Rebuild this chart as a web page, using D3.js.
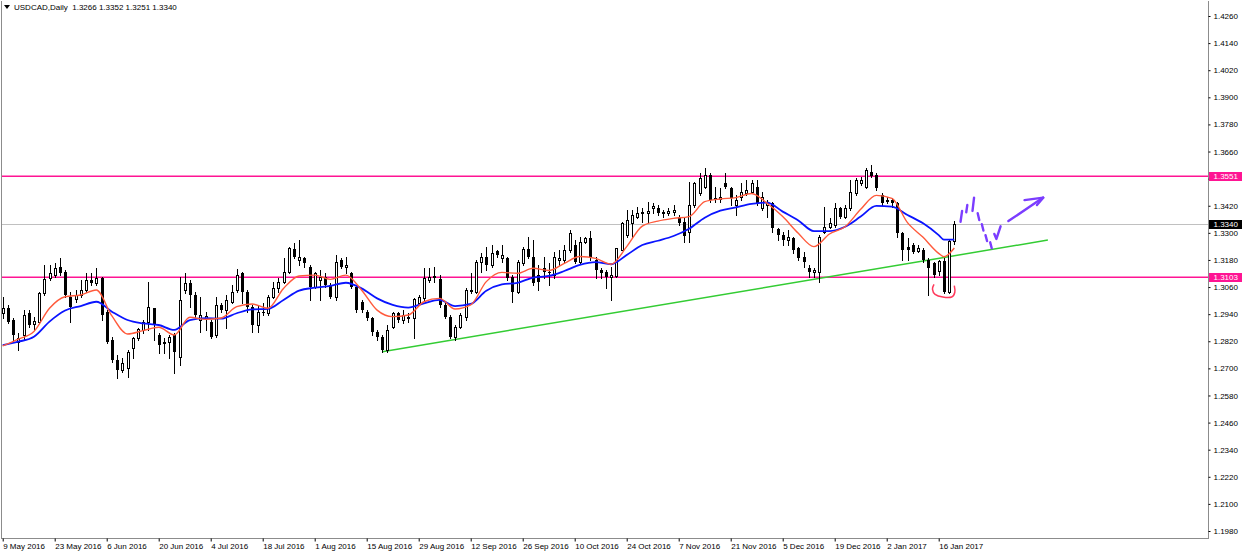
<!DOCTYPE html>
<html>
<head>
<meta charset="utf-8">
<script src="https://cdn.jsdelivr.net/npm/d3@7"></script>
<style>
body { margin: 0; background: #fff; }
svg { display: block; font-family: "Liberation Sans", Arial, sans-serif; }
</style>
</head>
<body>
<div id="chart"></div>
<script>
// daily candles (bar 0 = 9 May 2016)
var opens = [
  1.2944,1.2966,1.2914,1.2818,1.2848,1.2944,1.2897,1.2907,1.3032,1.3099,
  1.3113,1.3147,1.3128,1.3017,1.3005,1.3025,1.3047,1.3091,1.3076,1.3099,
  1.2951,1.2826,1.2737,1.2693,1.2700,1.2789,1.2833,1.2870,1.2907,1.2966,
  1.2848,1.2811,1.2818,1.2848,1.2752,1.3047,1.3076,1.3025,1.2915,1.2922,
  1.2907,1.2848,1.2981,1.2958,1.2995,1.3047,1.3121,1.3040,1.2973,1.2892,
  1.2951,1.2944,1.3017,1.3054,1.3084,1.3128,1.3227,1.3180,1.3187,1.3150,
  1.3062,1.3091,1.3106,1.3069,1.3017,1.3180,1.3150,1.3121,1.3062,1.2995,
  1.2951,1.2922,1.2863,1.2840,1.2781,1.2885,1.2944,1.2914,1.2922,1.2922,
  1.2988,1.3010,1.3091,1.3106,1.3094,1.2981,1.2929,1.2840,1.2885,1.2929,
  1.3047,1.3040,1.3172,1.3194,1.3158,1.3220,1.3187,1.3187,1.3106,1.3040,
  1.3165,1.3227,1.3194,1.3113,1.3143,1.3128,1.3113,1.3180,1.3180,1.3224,
  1.3246,1.3172,1.3261,1.3276,1.3180,1.3136,1.3128,1.3106,1.3109,1.3224,
  1.3290,1.3342,1.3372,1.3386,1.3390,1.3409,1.3412,1.3386,1.3390,1.3394,
  1.3372,1.3350,1.3305,1.3423,1.3475,1.3505,1.3556,1.3453,1.3449,1.3519,
  1.3497,1.3423,1.3460,1.3475,1.3482,1.3505,1.3409,1.3423,1.3431,1.3317,
  1.3290,1.3268,1.3276,1.3231,1.3194,1.3143,1.3128,1.3128,1.3305,1.3327,
  1.3335,1.3409,1.3372,1.3409,1.3475,1.3519,1.3505,1.3571,1.3556,1.3468,
  1.3444,1.3446,1.3431,1.3298,1.3239,1.3246,1.3220,1.3224,1.3180,1.3165,
  1.3131,1.3175,1.3039,1.3266
];
var highs = [
  1.3017,1.2981,1.2922,1.2855,1.2958,1.2958,1.2929,1.3040,1.3158,1.3158,
  1.3165,1.3187,1.3135,1.3040,1.3047,1.3091,1.3121,1.3121,1.3143,1.3106,
  1.2958,1.2840,1.2759,1.2745,1.2781,1.2840,1.2877,1.2914,1.3084,1.2966,
  1.2855,1.2833,1.2848,1.2855,1.3106,1.3121,1.3091,1.3040,1.3017,1.2951,
  1.2914,1.3017,1.2988,1.3025,1.3069,1.3138,1.3128,1.3047,1.2981,1.2981,
  1.2988,1.3025,1.3084,1.3099,1.3187,1.3239,1.3253,1.3268,1.3194,1.3158,
  1.3128,1.3135,1.3121,1.3076,1.3202,1.3187,1.3194,1.3128,1.3069,1.3003,
  1.2958,1.2929,1.2870,1.2848,1.2892,1.2951,1.2951,1.2958,1.2944,1.3010,
  1.3025,1.3143,1.3143,1.3150,1.3113,1.2988,1.2936,1.2892,1.2944,1.3054,
  1.3121,1.3180,1.3209,1.3239,1.3246,1.3224,1.3246,1.3194,1.3113,1.3180,
  1.3239,1.3280,1.3268,1.3158,1.3194,1.3165,1.3217,1.3224,1.3246,1.3312,
  1.3268,1.3283,1.3283,1.3310,1.3194,1.3143,1.3136,1.3150,1.3231,1.3350,
  1.3401,1.3401,1.3416,1.3409,1.3438,1.3431,1.3423,1.3401,1.3409,1.3423,
  1.3379,1.3364,1.3527,1.3527,1.3564,1.3586,1.3564,1.3505,1.3497,1.3564,
  1.3505,1.3468,1.3519,1.3534,1.3534,1.3534,1.3482,1.3446,1.3438,1.3320,
  1.3305,1.3313,1.3283,1.3239,1.3217,1.3158,1.3143,1.3290,1.3416,1.3364,
  1.3431,1.3416,1.3423,1.3534,1.3541,1.3549,1.3586,1.3601,1.3564,1.3475,
  1.3460,1.3453,1.3438,1.3305,1.3276,1.3254,1.3246,1.3231,1.3187,1.3173,
  1.3180,1.3187,1.3268,1.3352
];
var lows = [
  1.2922,1.2899,1.2826,1.2781,1.2826,1.2885,1.2870,1.2899,1.3025,1.3091,
  1.3106,1.3113,1.3017,1.2907,1.2995,1.3017,1.3040,1.3069,1.3069,1.2914,
  1.2811,1.2730,1.2656,1.2685,1.2663,1.2745,1.2826,1.2855,1.2870,1.2826,
  1.2767,1.2767,1.2745,1.2678,1.2715,1.3032,1.2973,1.2929,1.2863,1.2870,
  1.2833,1.2840,1.2951,1.2877,1.2988,1.3040,1.2988,1.2951,1.2863,1.2863,
  1.2936,1.2936,1.3010,1.3040,1.3076,1.3121,1.3187,1.3158,1.3150,1.3003,
  1.3054,1.3003,1.3062,1.3010,1.3003,1.3143,1.3121,1.3054,1.2951,1.2951,
  1.2914,1.2848,1.2826,1.2774,1.2774,1.2877,1.2907,1.2899,1.2907,1.2833,
  1.2981,1.3003,1.3084,1.3084,1.2973,1.2922,1.2833,1.2826,1.2877,1.2914,
  1.3032,1.3032,1.3128,1.3135,1.3150,1.3194,1.3172,1.3091,1.2995,1.3032,
  1.3158,1.3187,1.3069,1.3047,1.3099,1.3069,1.3099,1.3158,1.3172,1.3217,
  1.3165,1.3165,1.3253,1.3180,1.3099,1.3099,1.3054,1.3003,1.3106,1.3224,
  1.3283,1.3283,1.3364,1.3350,1.3350,1.3386,1.3379,1.3372,1.3379,1.3379,
  1.3335,1.3261,1.3261,1.3416,1.3468,1.3497,1.3438,1.3438,1.3438,1.3497,
  1.3423,1.3379,1.3446,1.3468,1.3475,1.3423,1.3401,1.3372,1.3305,1.3268,
  1.3246,1.3246,1.3209,1.3180,1.3150,1.3106,1.3106,1.3084,1.3298,1.3320,
  1.3327,1.3364,1.3364,1.3401,1.3468,1.3512,1.3497,1.3549,1.3490,1.3423,
  1.3431,1.3416,1.3283,1.3180,1.3180,1.3209,1.3217,1.3173,1.3025,1.3106,
  1.3113,1.3032,1.3032,1.3251
];
var closes = [
  1.2966,1.2907,1.2848,1.2833,1.2936,1.2892,1.2910,1.3032,1.3094,1.3121,
  1.3143,1.3121,1.3025,1.2973,1.3025,1.3047,1.3091,1.3076,1.3099,1.2936,
  1.2818,1.2737,1.2693,1.2722,1.2774,1.2833,1.2873,1.2907,1.2973,1.2892,
  1.2804,1.2818,1.2840,1.2774,1.3003,1.3076,1.3025,1.2936,1.2936,1.2932,
  1.2840,1.2981,1.2958,1.3003,1.3040,1.3113,1.3040,1.2973,1.2892,1.2951,
  1.2944,1.3017,1.3054,1.3084,1.3128,1.3231,1.3194,1.3194,1.3165,1.3062,
  1.3121,1.3106,1.3069,1.3017,1.3172,1.3150,1.3158,1.3062,1.2958,1.2958,
  1.2922,1.2863,1.2840,1.2781,1.2870,1.2944,1.2914,1.2936,1.2929,1.3007,
  1.3014,1.3099,1.3106,1.3110,1.2981,1.2929,1.2840,1.2885,1.2936,1.3047,
  1.3040,1.3172,1.3194,1.3158,1.3209,1.3202,1.3202,1.3099,1.3040,1.3172,
  1.3227,1.3194,1.3076,1.3084,1.3128,1.3121,1.3194,1.3187,1.3224,1.3298,
  1.3172,1.3261,1.3276,1.3187,1.3135,1.3124,1.3106,1.3113,1.3231,1.3342,
  1.3357,1.3379,1.3386,1.3394,1.3397,1.3420,1.3386,1.3394,1.3397,1.3401,
  1.3342,1.3286,1.3423,1.3519,1.3541,1.3556,1.3446,1.3446,1.3460,1.3505,
  1.3453,1.3446,1.3482,1.3490,1.3519,1.3431,1.3460,1.3438,1.3320,1.3290,
  1.3268,1.3280,1.3224,1.3187,1.3173,1.3128,1.3136,1.3283,1.3327,1.3342,
  1.3409,1.3372,1.3409,1.3482,1.3534,1.3534,1.3578,1.3553,1.3497,1.3431,
  1.3438,1.3431,1.3298,1.3224,1.3224,1.3217,1.3234,1.3180,1.3143,1.3113,
  1.3175,1.3039,1.3262,1.3340
];

// moving averages, read at these bar numbers
var maBars = [0,3,6,9,12,15,18,21,24,27,30,33,36,39,42,45,48,51,54,57,60,63,66,69,72,75,78,81,84,87,
  90,93,96,99,102,105,108,111,114,117,120,123,126,129,132,135,138,141,144,147,150,153,156,159,162,165,
  168,171,174,177,180,181,183];
var maSlow = [1.2803,1.2818,1.2840,1.2907,1.2956,1.2976,1.2995,1.2951,1.2914,1.2899,1.2892,1.2870,1.2914,
  1.2922,1.2920,1.2944,1.2961,1.2963,1.3003,1.3044,1.3057,1.3065,1.3079,1.3054,1.3010,1.2981,1.2969,1.2988,
  1.3003,1.2976,1.2985,1.3044,1.3072,1.3079,1.3102,1.3109,1.3131,1.3158,1.3170,1.3161,1.3202,1.3246,1.3265,
  1.3286,1.3318,1.3367,1.3398,1.3413,1.3428,1.3434,1.3394,1.3355,1.3308,1.3308,1.3327,1.3372,1.3419,1.3416,
  1.3379,1.3342,1.3290,1.3270,1.3270];
var maFast = [1.2799,1.2829,1.2863,1.2966,1.3017,1.3025,1.3047,1.2932,1.2852,1.2867,1.2882,1.2848,1.2926,
  1.2917,1.2923,1.2973,1.2985,1.2966,1.3054,1.3109,1.3113,1.3094,1.3113,1.3047,1.2958,1.2929,1.2936,1.2995,
  1.3010,1.2963,1.2981,1.3084,1.3125,1.3121,1.3143,1.3133,1.3165,1.3195,1.3187,1.3161,1.3239,1.3330,1.3352,
  1.3364,1.3372,1.3438,1.3450,1.3456,1.3474,1.3431,1.3372,1.3298,1.3239,1.3295,1.3327,1.3404,1.3466,1.3453,
  1.3345,1.3280,1.3209,1.3194,1.3233];

var levels = [1.3551, 1.3103];
var bidPrice = 1.3340;
var trendLine = [[73, 1.2774], [201, 1.3268]];

var priceTicks = [1.1980,1.2100,1.2220,1.2340,1.2460,1.2580,1.2700,1.2820,1.2940,1.3060,
  1.3180,1.3300,1.3420,1.3540,1.3660,1.3780,1.3900,1.4020,1.4140,1.4260];
var dateBars = [0,10,20,30,40,50,60,70,80,90,100,110,120,130,140,150,160,170,180];
var dateLabels = ["9 May 2016","23 May 2016","6 Jun 2016","20 Jun 2016","4 Jul 2016","18 Jul 2016",
  "1 Aug 2016","15 Aug 2016","29 Aug 2016","12 Sep 2016","26 Sep 2016","10 Oct 2016","24 Oct 2016",
  "7 Nov 2016","21 Nov 2016","5 Dec 2016","19 Dec 2016","2 Jan 2017","16 Jan 2017"];

// hand drawn marks, in (bar, price)
var purpleStrokes = [
  [[184.2,1.3349],[184.5,1.3397]],
  [[185.3,1.3391],[185.5,1.3423]],
  [[186.5,1.3397],[186.8,1.3456]],
  [[187.5,1.3387],[187.8,1.3357]],
  [[188.3,1.3338],[188.6,1.3310]],
  [[189.0,1.3290],[189.3,1.3264]],
  [[189.9,1.3258],[190.2,1.3232]],
  [[190.7,1.3295],[191.1,1.3273],[191.9,1.3329]],
  [[193.4,1.3352],[200.1,1.3456]],
  [[196.5,1.3445],[200.1,1.3456],[198.9,1.3423]]
];
var redLoop = [[179.1,1.3072],[178.8,1.3051],[179.3,1.3028],[180.8,1.3016],[182.5,1.3016],[183.1,1.3037],[183.0,1.3066]];

var width = 1242, height = 553;
var plotRight = 1208.5, plotBottom = 538.5;

var x = d3.scaleLinear().domain([0, 230]).range([2.7, 2.7 + 5.2 * 230]);
var y = d3.scaleLinear().domain([1.1980, 1.4260]).range([531, 16]);

var svg = d3.select("#chart").append("svg")
    .attr("width", width)
    .attr("height", height);

svg.append("rect").attr("width", width).attr("height", height).attr("fill", "#fff");

svg.append("clipPath").attr("id", "plotclip")
  .append("rect").attr("x", 2).attr("y", 1).attr("width", plotRight - 2).attr("height", plotBottom - 1);

var plot = svg.append("g").attr("clip-path", "url(#plotclip)");

// bid line
plot.append("line")
    .attr("x1", 0).attr("x2", plotRight)
    .attr("y1", Math.round(y(bidPrice)) + 0.5).attr("y2", Math.round(y(bidPrice)) + 0.5)
    .attr("stroke", "#c0c0c0");

// pink levels
plot.selectAll(".level").data(levels).enter().append("line")
    .attr("x1", 0).attr("x2", plotRight)
    .attr("y1", function (d) { return y(d); }).attr("y2", function (d) { return y(d); })
    .attr("stroke", "#ff1493").attr("stroke-width", 1.5);

// trend line
plot.append("line")
    .attr("x1", x(trendLine[0][0])).attr("y1", y(trendLine[0][1]))
    .attr("x2", x(trendLine[1][0])).attr("y2", y(trendLine[1][1]))
    .attr("stroke", "#33cc33").attr("stroke-width", 1.5);

// candles
var bars = d3.range(opens.length).map(function (i) {
    return { i: i, o: opens[i], h: highs[i], l: lows[i], c: closes[i], up: closes[i] >= opens[i] };
});
var cg = plot.append("g").attr("shape-rendering", "crispEdges");
var candle = cg.selectAll(".candle").data(bars).enter().append("g");

candle.append("line")
    .attr("x1", function (d) { return Math.round(x(d.i)) + 0.5; })
    .attr("x2", function (d) { return Math.round(x(d.i)) + 0.5; })
    .attr("y1", function (d) { return Math.round(y(d.h)); })
    .attr("y2", function (d) { return Math.round(y(d.l)) + 1; })
    .attr("stroke", "#000");

candle.append("rect")
    .attr("x", function (d) { return d.up ? Math.round(x(d.i)) - 0.5 : Math.round(x(d.i)) - 1; })
    .attr("y", function (d) { return d.up ? Math.round(y(d.c)) + 0.5 : Math.round(y(d.o)); })
    .attr("width", function (d) { return d.up ? 2 : 3; })
    .attr("height", function (d) {
        return d.up ? Math.max(1, Math.round(y(d.o)) - Math.round(y(d.c)))
                    : Math.max(1, Math.round(y(d.c)) - Math.round(y(d.o)));
    })
    .attr("fill", function (d) { return d.up ? "#fff" : "#000"; })
    .attr("stroke", function (d) { return d.up ? "#000" : "none"; });

// moving averages
var maLine = d3.line()
    .x(function (d) { return x(d[0]); })
    .y(function (d) { return y(d[1]); })
    .curve(d3.curveMonotoneX);

plot.append("path")
    .datum(maBars.map(function (b, k) { return [b, maSlow[k]]; }))
    .attr("d", maLine)
    .attr("fill", "none").attr("stroke", "#0a14ff").attr("stroke-width", 1.8);

plot.append("path")
    .datum(maBars.map(function (b, k) { return [b, maFast[k]]; }))
    .attr("d", maLine)
    .attr("fill", "none").attr("stroke", "#ff5a3c").attr("stroke-width", 1.4);

// annotations
var freeLine = d3.line()
    .x(function (d) { return x(d[0]); })
    .y(function (d) { return y(d[1]); });

plot.selectAll(".mark").data(purpleStrokes).enter().append("path")
    .attr("d", freeLine)
    .attr("fill", "none").attr("stroke", "#7b3dff").attr("stroke-width", 2.4)
    .attr("stroke-linecap", "round").attr("stroke-linejoin", "round");

plot.append("path")
    .datum(redLoop)
    .attr("d", freeLine.curve(d3.curveCardinal))
    .attr("fill", "none").attr("stroke", "#ff3a5c").attr("stroke-width", 1.5);

// frame
var frame = svg.append("g").attr("fill", "none").attr("stroke", "#8c8c8c").attr("shape-rendering", "crispEdges");
frame.append("path").attr("d", "M1.5,0.5V" + plotBottom + "H" + plotRight + "V0.5");

// price labels on the axis (levels and bid)
var tags = [[levels[0], "#ff1493"], [levels[1], "#ff1493"], [bidPrice, "#000"]];

// a tick label that sits under a tag is hidden by it
var shownTicks = priceTicks.filter(function (p) {
    return !tags.some(function (t) { return Math.abs(y(p) - y(t[0])) < 7; });
});

var yAxis = svg.append("g")
    .attr("transform", "translate(" + plotRight + ",0)")
    .call(d3.axisRight(y).tickValues(priceTicks).tickSize(2).tickPadding(3)
        .tickFormat(function (p) { return shownTicks.indexOf(p) >= 0 ? d3.format(".4f")(p) : ""; }));
yAxis.select(".domain").remove();
yAxis.selectAll("line").attr("stroke", "#000");
yAxis.selectAll("text").attr("font-size", 8).attr("font-family", "Liberation Sans, Arial, sans-serif").attr("fill", "#000");

var tag = svg.selectAll(".tag").data(tags).enter().append("g");
tag.append("rect")
    .attr("x", plotRight + 0.5).attr("width", width - plotRight)
    .attr("y", function (d) { return Math.round(y(d[0])) - 4; }).attr("height", 9)
    .attr("fill", function (d) { return d[1]; });
tag.append("text")
    .attr("x", plotRight + 5).attr("y", function (d) { return y(d[0]); }).attr("dy", "0.34em")
    .attr("font-size", 8).attr("fill", "#fff")
    .text(function (d) { return d3.format(".4f")(d[0]); });

// date axis
var xAxis = svg.append("g")
    .attr("transform", "translate(0," + plotBottom + ")")
    .call(d3.axisBottom(x).tickValues(dateBars).tickSize(3).tickPadding(2)
        .tickFormat(function (d, i) { return dateLabels[i]; }));
xAxis.select(".domain").remove();
xAxis.selectAll("line").attr("stroke", "#000");
xAxis.selectAll("text").attr("text-anchor", "start").attr("x", 0)
    .attr("font-size", 8).attr("font-family", "Liberation Sans, Arial, sans-serif").attr("fill", "#000");

// title
svg.append("path").attr("d", "M4,5H10L7,9Z").attr("fill", "#000");
var last = opens.length - 1;
svg.append("text")
    .attr("x", 14).attr("y", 10)
    .attr("font-size", 8).attr("fill", "#000")
    .style("white-space", "pre")
    .text("USDCAD,Daily  " + [opens[last], highs[last], lows[last], closes[last]].map(d3.format(".4f")).join(" "));
</script>
</body>
</html>
